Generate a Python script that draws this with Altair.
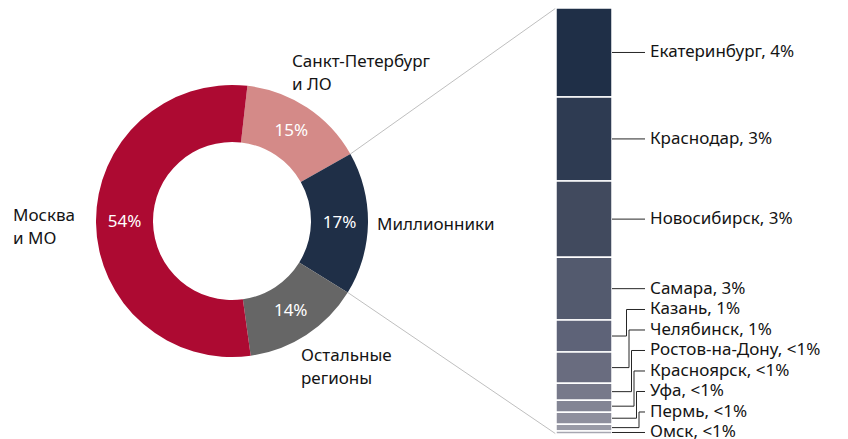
import math
import altair as alt
import pandas as pd

# ---------------- data ----------------
region_names = ["Санкт-Петербург\nи ЛО", "Миллионники", "Остальные\nрегионы", "Москва\nи МО"]
region_share = [15, 17, 14, 54]
region_pct = ["15%", "17%", "14%", "54%"]
region_colors = ["#D48A88", "#1F2F47", "#666666", "#AD0A32"]

city_names = ["Екатеринбург", "Краснодар", "Новосибирск", "Самара", "Казань", "Челябинск",
              "Ростов-на-Дону", "Красноярск", "Уфа", "Пермь", "Омск"]
city_share = [3.55, 3.35, 3.05, 2.5, 1.28, 1.24, 0.68, 0.48, 0.48, 0.27, 0.12]
city_pct = ["4%", "3%", "3%", "3%", "1%", "1%", "<1%", "<1%", "<1%", "<1%", "<1%"]
city_colors = ["#1F2F47", "#2E3B52", "#414A5E", "#535A6E", "#5E6378", "#696C7F",
               "#77798A", "#838594", "#8E8F9D", "#999AA6", "#A6A7B1"]

# ---------------- layout ----------------
W, H = 832, 431
BAR_H = 426
CX, CY = 224, 213
R_OUT, R_IN = 136, 79
START = math.radians(6.5)
BAR_X0, BAR_X1 = 548, 604
LINE_END, TEXT_X = 637, 642
GAP = 20.5
FONT = "Noto Sans"
TXT = "#141414"
FS = 17
FS_PCT = 17

# donut table
rows, cum = [], 0.0
for i, (n, s, p, c) in enumerate(zip(region_names, region_share, region_pct, region_colors)):
    rows.append(dict(i=i, name=n, start=cum, end=cum + s, mid=cum + s / 2, pct=p, color=c))
    cum += s
donut = pd.DataFrame(rows)
total_r = cum

# city table
total_c = sum(city_share)
crow, top = [], 0.0
for i, (n, s, p, c) in enumerate(zip(city_names, city_share, city_pct, city_colors)):
    hi = total_c - top
    lo = hi - s
    crow.append(dict(i=i, name=n, lo=lo, hi=hi, mid=(lo + hi) / 2,
                     label=f"{n}, {p}", color=c))
    top += s
cities = pd.DataFrame(crow)

# label positions (push upward from the bottom so they do not overlap)
gap_v = GAP / BAR_H * total_c
labs = [0.0] * len(crow)
prev = None
for k in range(len(crow) - 1, -1, -1):
    m = crow[k]["mid"]
    labs[k] = m if prev is None else max(m, prev + gap_v)
    prev = labs[k]
cities["lab"] = labs

# leader lines
lead = []
for k, r in enumerate(crow):
    m, lb = r["mid"], labs[k]
    if abs(lb - m) < 1e-9:
        pts = [(BAR_X1, m), (LINE_END, lb)]
    else:
        e = 616 + 2.5 * (k - 3)
        pts = [(BAR_X1, m), (e, m), (e, lb), (LINE_END, lb)]
    for j, (x, y) in enumerate(pts):
        lead.append(dict(name=r["name"], j=j, x=x, y=y))
leaders = pd.DataFrame(lead)


def px_to_val(ypx):
    return (BAR_H - ypx) * total_c / BAR_H


# connector lines from donut (Миллионники slice edges) to bar corners
conn = []
mill = donut.iloc[1]
for edge, yv in ((mill["start"], total_c), (mill["end"], 0.0)):
    a = START + 2 * math.pi * edge / total_r
    xp = CX + R_OUT * math.sin(a)
    yp = CY - R_OUT * math.cos(a)
    conn.append(dict(x=xp, y=px_to_val(yp), x2=BAR_X0, y2=yv))
connectors = pd.DataFrame(conn)

# ---------------- scales ----------------
theta_scale = alt.Scale(domain=[0, total_r], range=[START, START + 2 * math.pi])
x_scale = alt.Scale(domain=[0, W], range=[0, W], nice=False, zero=False)
y_scale = alt.Scale(domain=[0, total_c], range=[BAR_H, 0], nice=False, zero=False)

# ---------------- layers ----------------
conn_layer = alt.Chart(connectors).mark_rule(color="#BFBFBF", strokeWidth=1).encode(
    x=alt.X("x:Q", scale=x_scale, axis=None),
    y=alt.Y("y:Q", scale=y_scale, axis=None),
    x2="x2:Q", y2="y2:Q",
)

arcs = alt.Chart(donut).mark_arc(innerRadius=R_IN, outerRadius=R_OUT).encode(
    theta=alt.Theta("start:Q", scale=theta_scale, stack=None),
    theta2="end:Q",
    color=alt.Color("color:N", scale=None, legend=None),
    x=alt.value(CX), y=alt.value(CY),
)

pct_text = alt.Chart(donut).mark_text(
    radius=(R_IN + R_OUT) / 2, color="white", font=FONT, fontSize=FS_PCT,
    align="center", baseline="middle",
).encode(
    theta=alt.Theta("mid:Q", scale=theta_scale, stack=None),
    text="pct:N",
    x=alt.value(CX), y=alt.value(CY),
)

offsets = [(-20.6, -37), (-1, 1), (-10.7, 12.6), (-73, -6.8)]
region_labels = []
for i, (dx, dy) in enumerate(offsets):
    region_labels.append(
        alt.Chart(donut).transform_filter(alt.datum.i == i).mark_text(
            radius=R_OUT + 10, dx=dx, dy=dy, align="left", baseline="middle",
            font=FONT, fontSize=FS, color=TXT, lineBreak="\n", lineHeight=23,
        ).encode(
            theta=alt.Theta("mid:Q", scale=theta_scale, stack=None),
            text="name:N",
            x=alt.value(CX), y=alt.value(CY),
        )
    )

bar = alt.Chart(cities).mark_bar(stroke="white", strokeWidth=1.5).encode(
    y=alt.Y("lo:Q", scale=y_scale, axis=None),
    y2="hi:Q",
    x=alt.value(BAR_X0), x2=alt.value(BAR_X1),
    color=alt.Color("color:N", scale=None, legend=None),
)

lead_layer = alt.Chart(leaders).mark_line(color="#262626", strokeWidth=1).encode(
    x=alt.X("x:Q", scale=x_scale, axis=None),
    y=alt.Y("y:Q", scale=y_scale, axis=None),
    detail="name:N",
    order="j:Q",
)

city_text = alt.Chart(cities).mark_text(
    align="left", baseline="middle", font=FONT, fontSize=FS, color=TXT,
).encode(
    x=alt.value(TEXT_X),
    y=alt.Y("lab:Q", scale=y_scale, axis=None),
    text="label:N",
)

chart = alt.layer(
    conn_layer, arcs, pct_text, *region_labels, bar, lead_layer, city_text
).properties(
    width=W, height=H, padding=0,
    autosize=alt.AutoSizeParams(type="none"),
).configure_view(stroke=None)

chart.save("out.html", embed_options={"renderer": "svg", "actions": False})
